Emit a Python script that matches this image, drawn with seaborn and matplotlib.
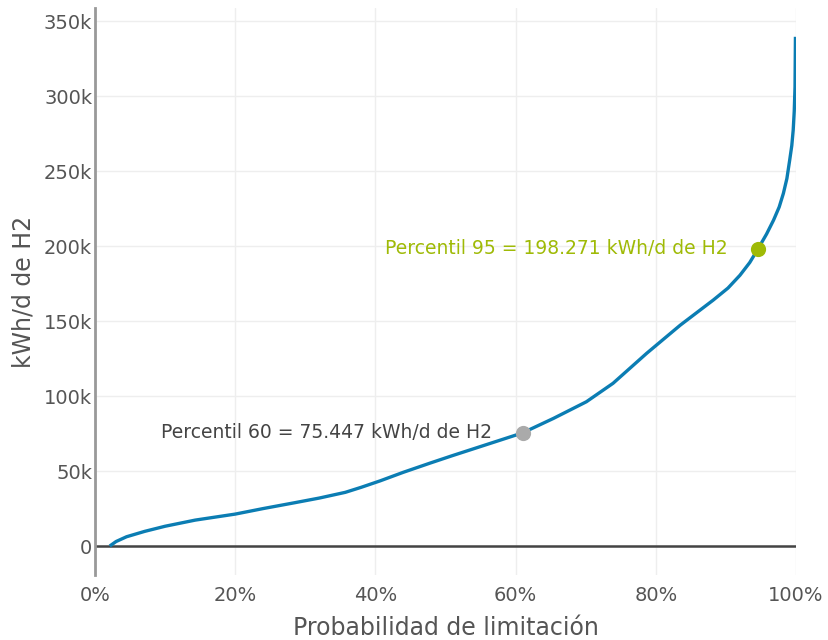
import numpy as np
import pandas as pd
import matplotlib.pyplot as plt
import seaborn as sns
from matplotlib.ticker import FuncFormatter

# datos
prob = [2.1, 3.0, 4.5, 7.1, 10, 14.3, 20, 24, 28.5, 32, 35.7, 38, 40.7, 44, 47.8, 51,
        54.9, 61, 65.4, 70.1, 73.9, 78.7, 83.5, 88.2, 90.3, 92, 93.4, 94.6, 95.8, 96.8,
        97.6, 98.2, 98.7, 99.1, 99.4, 99.6, 99.75, 99.86, 99.92]
energia = [0, 3000, 6200, 9800, 13200, 17300, 21300, 25000, 28900, 32000, 35800, 39200,
           43500, 49200, 55300, 60300, 66200, 75447, 85100, 96200, 108500, 128500, 147300,
           164000, 172000, 180500, 189000, 198271, 208000, 217300, 226000, 235100, 245000,
           257300, 267000, 277300, 290000, 306000, 339500]
percentiles = ['Percentil 60 = 75.447 kWh/d de H2', 'Percentil 95 = 198.271 kWh/d de H2']
p_x = [61, 94.6]
p_y = [75447, 198271]
p_col = ['#aaaaaa', '#9fba06']
txt_col = ['#444444', '#9fba06']

sns.set_style('white')
plt.rcParams['font.family'] = ['DejaVu Sans']

fig = plt.figure(figsize=(8.29, 6.4), dpi=100)
ax = fig.add_axes([95 / 829, 65 / 640, 701 / 829, 567 / 640])

df = pd.DataFrame({'prob': prob, 'energia': energia})
sns.lineplot(data=df, x='prob', y='energia', ax=ax, color='#0b7db3', linewidth=2.4,
             zorder=3, solid_capstyle='butt')

for lab, x, y, c, tc in zip(percentiles, p_x, p_y, p_col, txt_col):
    ax.scatter([x], [y], s=120, color=c, zorder=4, linewidths=0)
    ax.annotate(lab, (x, y), xytext=(-31, 0), textcoords='offset pixels',
                ha='right', va='center', fontsize=13.5, color=tc)

ax.set_xlim(0, 100)
ax.set_ylim(-19300, 358700)
ax.set_xticks([0, 20, 40, 60, 80, 100])
ax.set_yticks([0, 50000, 100000, 150000, 200000, 250000, 300000, 350000])
ax.xaxis.set_major_formatter(FuncFormatter(lambda v, p: f'{v:.0f}%'))
ax.yaxis.set_major_formatter(FuncFormatter(lambda v, p: '0' if v == 0 else f'{v/1000:.0f}k'))
ax.grid(True, color='#eeeeee', linewidth=1)
ax.axhline(0, color='#444444', linewidth=1.8, zorder=2)
ax.tick_params(length=0, labelsize=14, colors='#555555')
ax.tick_params(axis='x', pad=8)
ax.tick_params(axis='y', pad=2)
for s in ['top', 'right', 'bottom']:
    ax.spines[s].set_visible(False)
ax.spines['left'].set_color('#999999')
ax.spines['left'].set_linewidth(2)

ax.set_xlabel('Probabilidad de limitación', fontsize=17, color='#555555', labelpad=8)
ax.set_ylabel('kWh/d de H2', fontsize=17, color='#555555', labelpad=6)

fig.savefig('out.png', dpi=100)
